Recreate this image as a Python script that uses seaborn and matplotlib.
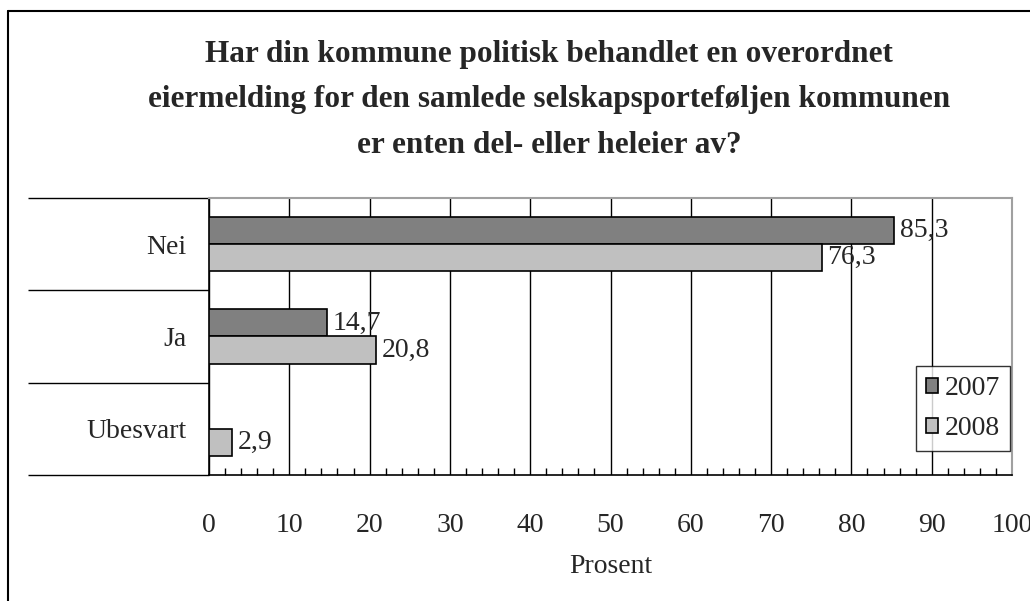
import numpy as np
import pandas as pd
import matplotlib
matplotlib.use('Agg')
import matplotlib.pyplot as plt
import seaborn as sns
from matplotlib.lines import Line2D

# Data
categories = ['Nei', 'Ja', 'Ubesvart']
years = ['2007', '2008']
values_2007 = [85.3, 14.7, np.nan]
values_2008 = [76.3, 20.8, 2.9]
xticks = list(range(0, 101, 10))

df = pd.DataFrame({
    'Svar': categories * 2,
    'År': ['2007'] * 3 + ['2008'] * 3,
    'Prosent': values_2007 + values_2008,
})

sns.set_style('white')
plt.rcParams['font.family'] = ['Liberation Serif', 'DejaVu Serif']
plt.rcParams['font.size'] = 19.5

fig = plt.figure(figsize=(10.3, 6.01), dpi=100)
ax = fig.add_axes([209 / 1030, 1 - 475 / 601, 803 / 1030, 277 / 601])

palette = {'2007': '#808080', '2008': '#c0c0c0'}
sns.barplot(data=df, x='Prosent', y='Svar', hue='År', hue_order=years,
            order=categories, palette=palette, width=0.585,
            edgecolor='black', linewidth=1.2, saturation=1, ax=ax, zorder=3)

# value labels with comma decimals
for cont in ax.containers:
    labels = ['' if np.isnan(b.get_width()) else f'{b.get_width():.1f}'.replace('.', ',')
              for b in cont]
    ax.bar_label(cont, labels=labels, padding=4, fontsize=20, zorder=4)

ax.set_xlim(0, 100)
ax.set_ylim(2.5, -0.5)
ax.set_xticks(xticks)
ax.set_xticks(np.arange(0, 101, 2), minor=True)
ax.tick_params(axis='x', which='major', direction='out', length=7, width=1,
               color='black', pad=20, labelsize=20)
ax.tick_params(axis='x', which='minor', direction='in', length=5, width=1,
               color='black', bottom=True)
ax.grid(axis='x', which='major', color='black', linewidth=1, zorder=0)
ax.set_axisbelow(True)

# category separators stretching out to the left
ax.set_yticks([0, 1, 2])
ax.set_yticklabels(categories)
ax.set_yticks([-0.5, 0.5, 1.5, 2.5], minor=True)
ax.tick_params(axis='y', which='major', length=0, pad=16, labelsize=20)
ax.tick_params(axis='y', which='minor', direction='out', length=130, width=1,
               color='black', left=True)

ax.set_xlabel('Prosent', fontsize=20, labelpad=12)
ax.set_ylabel('')

for side in ['left', 'bottom']:
    ax.spines[side].set_color('black')
    ax.spines[side].set_linewidth(1.2)
for side in ['top', 'right']:
    ax.spines[side].set_color('#a0a0a0')
    ax.spines[side].set_linewidth(1.5)

leg = ax.legend(loc='lower right', bbox_to_anchor=(0.9975, 0.0866),
                fontsize=20, frameon=True, fancybox=False, edgecolor='black',
                handlelength=0.45, handleheight=0.45, handletextpad=0.25,
                borderpad=0.35, labelspacing=0.55, borderaxespad=0)
leg.get_frame().set_linewidth(1)

# title
fig.text(0.533, 1 - 40 / 601,
         'Har din kommune politisk behandlet en overordnet\n'
         'eiermelding for den samlede selskapsporteføljen kommunen\n'
         'er enten del- eller heleier av?',
         ha='center', va='top', fontsize=22.5, fontweight='bold', linespacing=1.75)

# outer chart border
fig.add_artist(Line2D([8 / 1030, 8 / 1030], [0, 1 - 11 / 601], color='black', lw=1.5))
fig.add_artist(Line2D([8 / 1030, 1], [1 - 11 / 601, 1 - 11 / 601], color='black', lw=1.5))

fig.savefig('out.png', dpi=100)
